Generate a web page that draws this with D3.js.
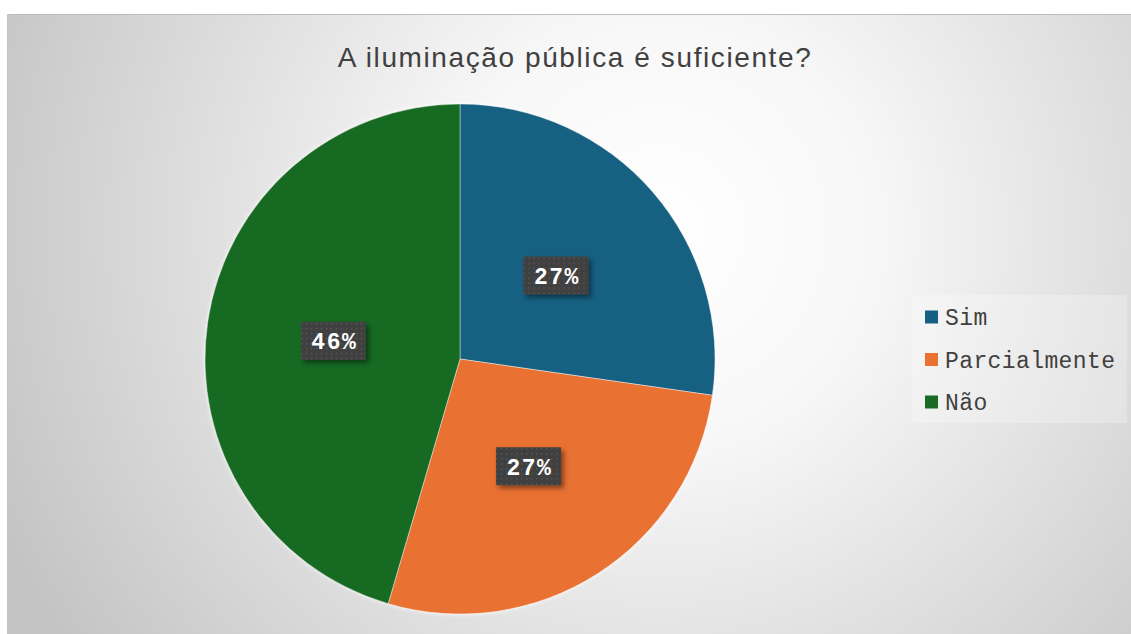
<!DOCTYPE html>
<html>
<head>
<meta charset="utf-8">
<script src="https://cdn.jsdelivr.net/npm/d3@7"></script>
<style>
  body { margin: 0; background: #fff; }
  svg { display: block; }
</style>
</head>
<body>
<div id="chart"></div>
<script>
// Data
var categories = ["Sim", "Parcialmente", "Não"];
var values = [3, 3, 5];
var labels = ["27%", "27%", "46%"];
var colors = ["#156082", "#E97132", "#196B24"];
var title = "A iluminação pública é suficiente?";

var width = 1131, height = 634;
var cx = 460, cy = 359, radius = 255;

var svg = d3.select("#chart").append("svg")
    .attr("width", width)
    .attr("height", height);

var defs = svg.append("defs");

// background gradient
var grad = defs.append("radialGradient")
    .attr("id", "bg")
    .attr("gradientUnits", "userSpaceOnUse")
    .attr("cx", 660).attr("cy", 230).attr("r", 720);
grad.append("stop").attr("offset", "0").attr("stop-color", "#ffffff");
grad.append("stop").attr("offset", "0.3").attr("stop-color", "#f7f7f7");
grad.append("stop").attr("offset", "1").attr("stop-color", "#c4c4c4");

// dotted pattern for label boxes
var pat = defs.append("pattern")
    .attr("id", "dots")
    .attr("patternUnits", "userSpaceOnUse")
    .attr("width", 5).attr("height", 5);
pat.append("rect").attr("width", 5).attr("height", 5).attr("fill", "#404040");
pat.append("rect").attr("x", 2).attr("y", 2).attr("width", 1.4).attr("height", 1.4).attr("fill", "#5a5a5a");

var shadow = defs.append("filter").attr("id", "shadow")
    .attr("x", "-30%").attr("y", "-30%").attr("width", "160%").attr("height", "170%");
shadow.append("feDropShadow")
    .attr("dx", 3).attr("dy", 3).attr("stdDeviation", 2.5)
    .attr("flood-color", "#000").attr("flood-opacity", 0.45);

var pieGlow = defs.append("filter").attr("id", "pieglow")
    .attr("x", "-10%").attr("y", "-10%").attr("width", "120%").attr("height", "120%");
pieGlow.append("feDropShadow")
    .attr("dx", 0).attr("dy", 0).attr("stdDeviation", 2)
    .attr("flood-color", "#fff").attr("flood-opacity", 0.9);

// chart area
svg.append("rect")
    .attr("x", 7).attr("y", 14)
    .attr("width", width - 7).attr("height", height - 14)
    .attr("fill", "url(#bg)");
svg.append("line")
    .attr("x1", 7).attr("x2", width).attr("y1", 14.5).attr("y2", 14.5)
    .attr("stroke", "#bdbdbd");
svg.append("line")
    .attr("x1", 7.5).attr("x2", 7.5).attr("y1", 14).attr("y2", height)
    .attr("stroke", "#c4c4c4");

// title
svg.append("text")
    .attr("x", 575).attr("y", 67)
    .attr("text-anchor", "middle")
    .style("font-family", "'Liberation Sans', Arial, sans-serif")
    .style("font-size", "28px")
    .style("letter-spacing", "1.6px")
    .attr("fill", "#404040")
    .text(title);

// pie
var pie = d3.pie().sort(null).value(function(d) { return d; });
var arc = d3.arc().innerRadius(0).outerRadius(radius);
var arcs = pie(values);

var g = svg.append("g").attr("transform", "translate(" + cx + "," + cy + ")");

g.append("g").attr("filter", "url(#pieglow)")
  .selectAll("path")
  .data(arcs)
  .enter()
    .append("path")
    .attr("d", arc)
    .attr("fill", function(d, i) { return colors[i]; })
    .attr("stroke", "#ffffff")
    .attr("stroke-opacity", 0.5)
    .attr("stroke-width", 0.8);

// data labels
var lab = g.selectAll(".lab")
  .data(arcs)
  .enter()
    .append("g")
    .attr("class", "lab")
    .attr("transform", function(d) {
        var c = arc.centroid(d);
        return "translate(" + c[0] + "," + c[1] + ")";
    });

lab.append("rect")
    .attr("x", -33).attr("y", -19)
    .attr("width", 65).attr("height", 38)
    .attr("fill", "url(#dots)")
    .attr("filter", "url(#shadow)");

lab.append("text")
    .attr("text-anchor", "middle")
    .attr("x", 0.5)
    .attr("dy", "0.36em")
    .style("font-family", "'Liberation Mono', 'Courier New', monospace")
    .style("font-weight", "bold")
    .style("font-size", "23px")
    .style("letter-spacing", "1.5px")
    .attr("fill", "#ffffff")
    .text(function(d, i) { return labels[i]; });

// legend
svg.append("rect")
    .attr("x", 912).attr("y", 295)
    .attr("width", 215).attr("height", 128)
    .attr("fill", "#ffffff").attr("fill-opacity", 0.25);

var leg = svg.selectAll(".leg")
  .data(categories)
  .enter()
    .append("g")
    .attr("class", "leg")
    .attr("transform", function(d, i) { return "translate(925," + (317 + i * 42.5) + ")"; });

leg.append("rect")
    .attr("x", 0).attr("y", -6.5)
    .attr("width", 13).attr("height", 13)
    .attr("fill", function(d, i) { return colors[i]; });

leg.append("text")
    .attr("x", 20).attr("dy", "0.35em")
    .style("font-family", "'Liberation Mono', 'Courier New', monospace")
    .style("font-size", "23px")
    .style("letter-spacing", "0.4px")
    .attr("fill", "#404040")
    .text(function(d) { return d; });
</script>
</body>
</html>
